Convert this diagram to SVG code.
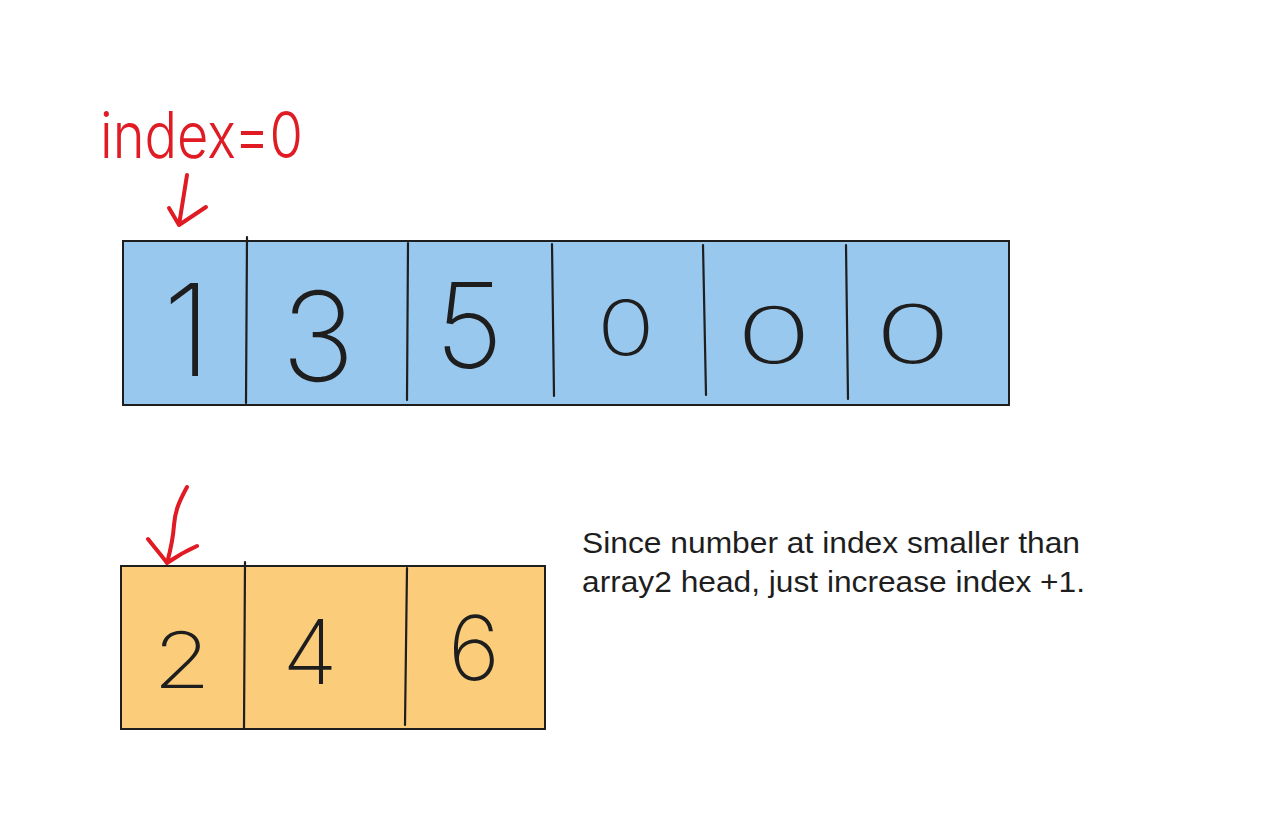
<svg xmlns="http://www.w3.org/2000/svg" width="1264" height="839" viewBox="0 0 1264 839">
<style>
.box{stroke:#1e1e1e;stroke-width:2}
.div{stroke:#1e1e1e;stroke-width:2.2;stroke-linecap:round;fill:none}
.dig{font-family:Inter,"Open Sans","DejaVu Sans",sans-serif;font-weight:200;fill:#1e1e1e;text-anchor:middle}
.red{stroke:#e01b24;stroke-width:4;stroke-linecap:round;stroke-linejoin:round;fill:none}
.note{font-family:"Liberation Sans",Arial,sans-serif;font-size:29px;fill:#1e1e1e}
</style>
<rect width="1264" height="839" fill="#ffffff"/>
<g id="array1">
<rect class="box" x="123" y="241" width="886" height="164" fill="#99c8ee"/>
<path class="div" d="M247 237 L246 403 M408 243 L407 400 M552 244 L554 396 M703 245 L706 395 M846 245 L848 399"/>
<text class="dig" x="187" y="376" font-size="128">1</text>
<text class="dig" x="318" y="381" font-size="124">3</text>
<text class="dig" x="469" y="368" font-size="118">5</text>
<text class="dig" font-size="76" transform="translate(626 355) scale(1.26 1)">0</text>
<text class="dig" font-size="78" transform="translate(774 363) scale(1.6 1)">0</text>
<text class="dig" font-size="81" transform="translate(913 363) scale(1.55 1)">0</text>
</g>
<g id="array2">
<rect class="box" x="121" y="566" width="424" height="163" fill="#fbcd7b"/>
<path class="div" d="M245 562 L244 728 M407 568 L405 725"/>
<text class="dig" font-size="78" transform="translate(182 688) scale(1.2 1)">2</text>
<text class="dig" x="310" y="684" font-size="90">4</text>
<text class="dig" x="474" y="680" font-size="89">6</text>
</g>
<g id="label-index">
<text x="100" y="158" font-family="Inter,'Open Sans',sans-serif" font-weight="300" font-size="64" fill="#e01b24" textLength="203" lengthAdjust="spacingAndGlyphs">index=0</text>
</g>
<g id="connectors">
<path class="red" d="M187 175 L179 225 M169 208 L179 225 L206 207"/>
<path class="red" d="M187 487 C180 500 175 510 174 525 C173 540 170 552 167 563 M148 539 C155 548 162 556 167 563 C177 556 188 550 197 546"/>
</g>
<g id="note">
<text class="note" x="582" y="553" textLength="498" lengthAdjust="spacingAndGlyphs">Since number at index smaller than</text>
<text class="note" x="582" y="592" textLength="503" lengthAdjust="spacingAndGlyphs">array2 head, just increase index +1.</text>
</g>
</svg>
